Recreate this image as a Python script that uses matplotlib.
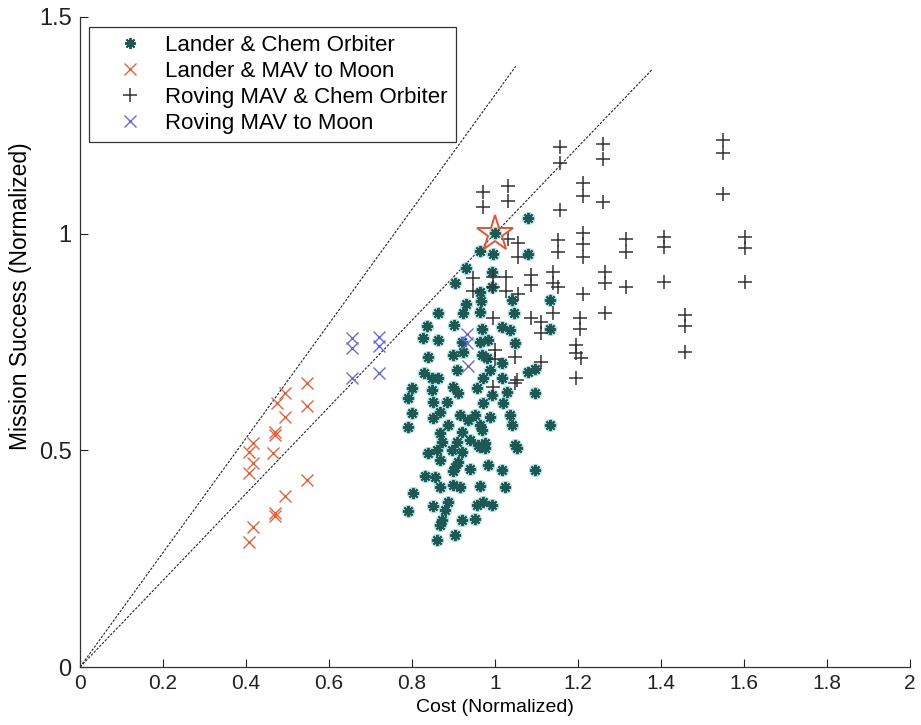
import matplotlib
matplotlib.use("Agg")
import matplotlib.pyplot as plt
import numpy as np

plt.rcParams['font.family'] = ['Liberation Sans', 'DejaVu Sans']

# Lander & Chem Orbiter architectures (cost, success)
lander_chem_cost = [
    1.080, 1.000, 0.964, 0.995, 1.080, 0.930, 0.993, 0.993, 0.904, 0.964,
    0.966, 0.930, 1.041, 1.133, 0.863, 0.923, 0.964, 1.046, 0.836, 0.901,
    0.969, 1.017, 1.036, 1.133, 0.827, 0.863, 0.920, 0.964, 0.983, 1.048,
    0.839, 0.899, 0.923, 0.969, 0.981, 1.017, 0.908, 0.829, 0.988, 1.080,
    1.096, 0.971, 1.017, 0.800, 0.848, 0.863, 0.848, 0.899, 0.911, 0.957,
    0.993, 1.029, 1.096, 0.790, 0.851, 0.884, 0.971, 1.019, 0.800, 0.867,
    0.916, 0.952, 0.988, 1.036, 0.790, 0.851, 0.887, 0.935, 0.964, 1.041,
    1.133, 0.867, 0.920, 0.969, 0.872, 0.908, 0.940, 0.976, 0.959, 1.048,
    0.839, 0.860, 0.896, 0.920, 0.964, 0.976, 1.053, 0.867, 0.904, 0.911,
    0.899, 0.940, 0.983, 1.017, 1.096, 0.831, 0.855, 0.867, 0.899, 0.916,
    0.964, 1.024, 0.802, 0.887, 0.957, 0.971, 0.993, 0.790, 0.851, 0.880,
    0.872, 0.920, 0.952, 0.867, 0.904, 0.860,
]
lander_chem_success = [
    1.037, 1.002, 0.961, 0.952, 0.954, 0.921, 0.912, 0.878, 0.885, 0.866,
    0.845, 0.838, 0.848, 0.848, 0.818, 0.818, 0.820, 0.818, 0.788, 0.790,
    0.781, 0.785, 0.778, 0.781, 0.760, 0.755, 0.751, 0.751, 0.755, 0.748,
    0.716, 0.721, 0.727, 0.721, 0.714, 0.702, 0.686, 0.679, 0.686, 0.681,
    0.688, 0.667, 0.667, 0.644, 0.667, 0.667, 0.640, 0.647, 0.633, 0.644,
    0.628, 0.635, 0.633, 0.621, 0.612, 0.612, 0.610, 0.610, 0.587, 0.589,
    0.582, 0.582, 0.577, 0.582, 0.554, 0.575, 0.559, 0.570, 0.559, 0.559,
    0.559, 0.540, 0.543, 0.547, 0.520, 0.520, 0.524, 0.517, 0.513, 0.513,
    0.494, 0.501, 0.501, 0.497, 0.508, 0.506, 0.506, 0.478, 0.462, 0.473,
    0.453, 0.457, 0.467, 0.455, 0.455, 0.441, 0.439, 0.416, 0.420, 0.416,
    0.418, 0.416, 0.402, 0.381, 0.374, 0.381, 0.374, 0.360, 0.372, 0.363,
    0.339, 0.339, 0.342, 0.328, 0.305, 0.293,
]

# Lander & MAV to Moon
lander_mav_cost = [
    0.547, 0.494, 0.475, 0.547, 0.494, 0.470, 0.470, 0.417, 0.407, 0.465,
    0.417, 0.407, 0.547, 0.494, 0.470, 0.470, 0.417, 0.407,
]
lander_mav_success = [
    0.656, 0.633, 0.610, 0.603, 0.577, 0.543, 0.536, 0.517, 0.497, 0.494,
    0.471, 0.448, 0.432, 0.395, 0.356, 0.349, 0.323, 0.289,
]

# Roving MAV & Chem Orbiter
roving_chem_cost = [
    0.971, 0.971, 1.031, 1.031, 1.157, 1.157, 1.260, 1.260, 1.212, 1.212,
    1.157, 1.260, 1.549, 1.549, 1.549, 1.316, 1.316, 1.316, 1.407, 1.407,
    1.407, 1.602, 1.602, 1.602, 1.458, 1.458, 1.458, 1.031, 1.055, 1.055,
    1.152, 1.152, 1.212, 1.212, 1.212, 1.265, 1.265, 1.212, 1.265, 1.140,
    1.140, 1.152, 1.087, 1.087, 1.027, 1.027, 1.055, 0.995, 0.995, 0.947,
    0.947, 1.140, 1.205, 1.205, 1.087, 1.111, 1.111, 0.995, 1.195, 1.195,
    1.207, 1.111, 1.053, 1.000, 1.000, 1.048, 1.048, 1.195, 0.995,
]
roving_chem_success = [
    1.097, 1.062, 1.109, 1.076, 1.199, 1.164, 1.208, 1.173, 1.118, 1.088,
    1.055, 1.072, 1.217, 1.185, 1.092, 0.988, 0.958, 0.878, 0.993, 0.970,
    0.889, 0.993, 0.968, 0.889, 0.813, 0.788, 0.727, 0.988, 0.979, 0.947,
    0.986, 0.958, 1.002, 0.977, 0.947, 0.912, 0.887, 0.861, 0.818, 0.912,
    0.887, 0.878, 0.905, 0.882, 0.901, 0.868, 0.861, 0.901, 0.878, 0.898,
    0.868, 0.818, 0.806, 0.781, 0.806, 0.797, 0.771, 0.806, 0.744, 0.725,
    0.714, 0.704, 0.663, 0.732, 0.711, 0.716, 0.656, 0.667, 0.647,
]

# Roving MAV to Moon
roving_moon_cost = [0.655, 0.655, 0.720, 0.720, 0.655, 0.720, 0.933, 0.933, 0.935]
roving_moon_success = [0.760, 0.737, 0.762, 0.741, 0.667, 0.679, 0.769, 0.748, 0.695]

# Reference architecture
baseline_cost = [1.0]
baseline_success = [1.0]

# Dotted guide lines through the origin: (slope, end cost)
guide_slopes = [1.32, 1.0]
guide_ends = [1.05, 1.38]

series_labels = ['Lander & Chem Orbiter', 'Lander & MAV to Moon',
                 'Roving MAV & Chem Orbiter', 'Roving MAV to Moon']

fig = plt.figure(figsize=(9.21, 7.25), dpi=100)
ax = fig.add_axes([0.0869, 0.080, 0.901, 0.8966])

for slope, xe in zip(guide_slopes, guide_ends):
    xs = np.array([0.0, xe])
    ax.plot(xs, slope * xs, color='#222222', lw=0.8,
            linestyle=(0, (2.2, 1.4)), zorder=1)

asterisk = (8, 2, 0)
# soft halo under the asterisks
ax.plot(lander_chem_cost, lander_chem_success, linestyle='none', marker=asterisk,
        ms=9, mew=3.2, mec='#9fdde2', alpha=0.8, zorder=2)
h1, = ax.plot(lander_chem_cost, lander_chem_success, linestyle='none',
              marker=asterisk, ms=8, mew=1.4, mec='#1f5852', zorder=3,
              label=series_labels[0])
h2, = ax.plot(lander_mav_cost, lander_mav_success, linestyle='none', marker='x',
              ms=8, mew=1.0, mec='#e2623f', zorder=3, label=series_labels[1])
h3, = ax.plot(roving_chem_cost, roving_chem_success, linestyle='none', marker='+',
              ms=10, mew=1.1, mec='#333333', zorder=3, label=series_labels[2])
h4, = ax.plot(roving_moon_cost, roving_moon_success, linestyle='none', marker='x',
              ms=8, mew=1.0, mec='#6a6ad0', zorder=3, label=series_labels[3])

ax.plot(baseline_cost, baseline_success, linestyle='none', marker='*', ms=27,
        mfc='none', mec='#e0553a', mew=1.4, zorder=4)

ax.set_xlim(0, 2)
ax.set_ylim(0, 1.5)
ax.set_xticks(np.arange(0, 2.01, 0.2))
ax.set_xticklabels(['0', '0.2', '0.4', '0.6', '0.8', '1', '1.2', '1.4',
                    '1.6', '1.8', '2'])
ax.set_yticks([0, 0.5, 1, 1.5])
ax.set_yticklabels(['0', '0.5', '1', '1.5'])
ax.tick_params(direction='in', length=6, width=0.8, colors='#222222')
ax.tick_params(axis='x', pad=5, labelsize=15)
ax.tick_params(axis='y', pad=6, labelsize=17)
for side in ('top', 'right'):
    ax.spines[side].set_visible(False)
for side in ('left', 'bottom'):
    ax.spines[side].set_linewidth(0.9)
    ax.spines[side].set_color('#333333')

ax.set_xlabel('Cost (Normalized)', fontsize=14, labelpad=4)
ax.set_ylabel('Mission Success (Normalized)', fontsize=16.5)
ax.yaxis.set_label_coords(-0.058, 0.57)

leg = ax.legend(handles=[h1, h2, h3, h4], loc='upper left',
                bbox_to_anchor=(0.011, 0.985), fontsize=16, frameon=True,
                fancybox=False, framealpha=1, edgecolor='#333333',
                handlelength=2.9, handletextpad=0.12, borderpad=0.38,
                labelspacing=0.22, borderaxespad=0)
leg.get_frame().set_linewidth(0.9)

fig.savefig('out.png', dpi=100)
